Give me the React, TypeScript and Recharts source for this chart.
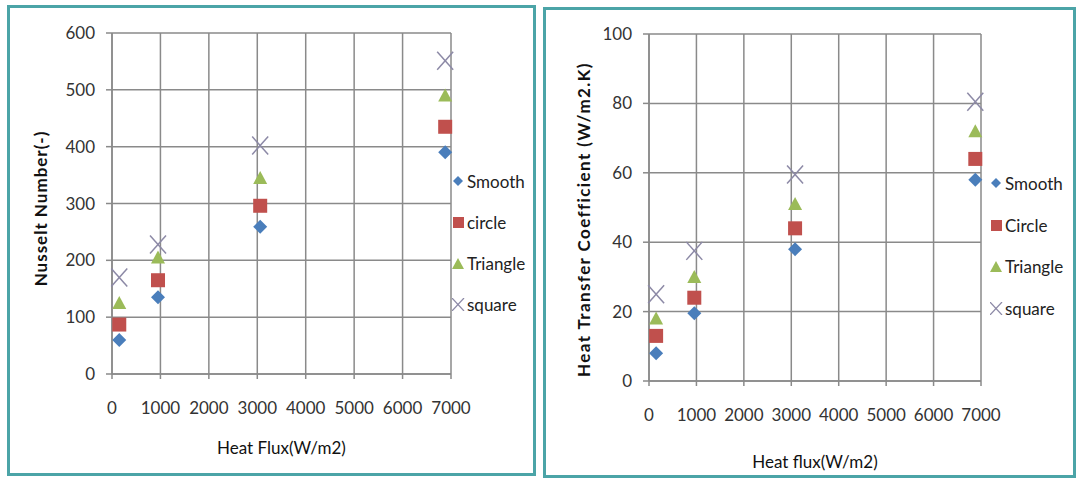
import React from 'react'
import { ScatterChart, Scatter, XAxis, YAxis, CartesianGrid, Label } from 'recharts'

// heat flux (W/m2) at the four test points
const fluxNu = [150, 950, 3060, 6880]
const fluxH = [150, 955, 3080, 6880]
const fluxTicks = [0, 1000, 2000, 3000, 4000, 5000, 6000, 7000]

// Nusselt number
const nuSmooth = [60, 135, 259, 390]
const nuCircle = [87, 165, 296, 435]
const nuTriangle = [125, 205, 345, 490]
const nuSquare = [170, 228, 402, 551]
const nuTicks = [0, 100, 200, 300, 400, 500, 600]

// heat transfer coefficient (W/m2.K)
const hSmooth = [8, 19.5, 38, 58]
const hCircle = [13, 24, 44, 64]
const hTriangle = [18, 30, 51, 72]
const hSquare = [25, 37.5, 59.5, 80.5]
const hTicks = [0, 20, 40, 60, 80, 100]

const leftNames = ['Smooth', 'circle', 'Triangle', 'square']
const rightNames = ['Smooth', 'Circle', 'Triangle', 'square']

const FONT = 'Lato, "Open Sans", sans-serif'
const GRID = '#8a8a8a'
const BORDER = '#4ba4a7'
const COLORS = ['#4a7ebb', '#c0504d', '#9bbb59', '#8c89a6']

const toPoints = (xs: number[], ys: number[]) => ys.map((y, i) => ({ x: xs[i], y }))

const Diamond = ({ cx, cy }: any) => (
  <polygon points={`${cx},${cy - 7} ${cx + 7},${cy} ${cx},${cy + 7} ${cx - 7},${cy}`} fill={COLORS[0]} />
)
const Square = ({ cx, cy }: any) => <rect x={cx - 7} y={cy - 7} width={14} height={14} fill={COLORS[1]} />
const Triangle = ({ cx, cy }: any) => (
  <polygon points={`${cx},${cy - 7} ${cx + 7},${cy + 6} ${cx - 7},${cy + 6}`} fill={COLORS[2]} />
)
const Cross = ({ cx, cy }: any) => (
  <g stroke={COLORS[3]} strokeWidth={1.5}>
    <line x1={cx - 8} y1={cy - 9} x2={cx + 8} y2={cy + 9} />
    <line x1={cx - 8} y1={cy + 9} x2={cx + 8} y2={cy - 9} />
  </g>
)
const shapes = [Diamond, Square, Triangle, Cross]

const legendIcon = (i: number) => {
  if (i === 0) return <polygon points="6,1 11,6 6,11 1,6" fill={COLORS[0]} />
  if (i === 1) return <rect x={1} y={1} width={11} height={11} fill={COLORS[1]} />
  if (i === 2) return <polygon points="6,1 12,12 0,12" fill={COLORS[2]} />
  return (
    <g stroke={COLORS[3]} strokeWidth={1.2}>
      <line x1={0} y1={0} x2={12} y2={13} />
      <line x1={0} y1={13} x2={12} y2={0} />
    </g>
  )
}

function Legend({ names, left, top, gap }: { names: string[]; left: number; top: number; gap: number }) {
  return (
    <div style={{ position: 'absolute', left, top, fontFamily: FONT, fontSize: 17, color: '#222' }}>
      {names.map((n, i) => (
        <div key={n} style={{ display: 'flex', alignItems: 'center', height: gap }}>
          <svg width={13} height={13} style={{ marginRight: 2 }}>
            {legendIcon(i)}
          </svg>
          <span>{n}</span>
        </div>
      ))}
    </div>
  )
}

const yTitle = (text: string, cx: number, dy: number, spacing: number) => (props: any) => {
  const vb = props.viewBox
  const cy = vb.y + vb.height / 2 + dy
  return (
    <text
      x={cx}
      y={cy}
      transform={`rotate(-90 ${cx} ${cy})`}
      textAnchor="middle"
      dominantBaseline="central"
      fontFamily={FONT}
      fontSize={17}
      fontWeight={700}
      letterSpacing={spacing}
      fill="#111"
    >
      {text}
    </text>
  )
}

const xTitle = (text: string, y: number) => (props: any) => {
  const vb = props.viewBox
  return (
    <text x={vb.x + vb.width / 2} y={y} textAnchor="middle" dominantBaseline="central" fontFamily={FONT} fontSize={17} fill="#111">
      {text}
    </text>
  )
}

const tickStyle = { fontFamily: FONT, fontSize: 17, fill: '#333' }

function Panel(props: {
  xs: number[]
  series: number[][]
  names: string[]
  yTicks: number[]
  yMax: number
  margin: any
  yLabel: string
  yLabelX: number
  yLabelDy: number
  yLabelSpacing: number
  xLabel: string
  xLabelY: number
}) {
  return (
    <ScatterChart width={540} height={479} margin={props.margin}>
      <CartesianGrid stroke={GRID} strokeWidth={1.5} horizontalValues={props.yTicks} verticalValues={fluxTicks} />
      <XAxis
        type="number"
        dataKey="x"
        domain={[0, 7000]}
        ticks={fluxTicks}
        height={30}
        stroke={GRID}
        strokeWidth={1.5}
        tickSize={5}
        tickMargin={23}
        tick={tickStyle}
      >
        <Label content={xTitle(props.xLabel, props.xLabelY)} />
      </XAxis>
      <YAxis
        type="number"
        dataKey="y"
        domain={[0, props.yMax]}
        ticks={props.yTicks}
        width={60}
        stroke={GRID}
        strokeWidth={1.5}
        tickSize={6}
        tickMargin={11}
        tick={tickStyle}
      >
        <Label content={yTitle(props.yLabel, props.yLabelX, props.yLabelDy, props.yLabelSpacing)} />
      </YAxis>
      {props.series.map((ys, i) => {
        const Shape = shapes[i]
        return (
          <Scatter
            key={props.names[i]}
            name={props.names[i]}
            data={toPoints(props.xs, ys)}
            shape={(p: any) => <Shape {...p} />}
            isAnimationActive={false}
          />
        )
      })}
    </ScatterChart>
  )
}

export default function App() {
  return (
    <div style={{ position: 'absolute', left: 0, top: 0, width: 1080, height: 479, background: '#fff', overflow: 'hidden' }}>
      <div style={{ position: 'absolute', left: 0, top: 0 }}>
        <Panel
          xs={fluxNu}
          series={[nuSmooth, nuCircle, nuTriangle, nuSquare]}
          names={leftNames}
          yTicks={nuTicks}
          yMax={600}
          margin={{ top: 33, right: 89, bottom: 75, left: 52 }}
          yLabel="Nusselt Number(-)"
          yLabelX={40}
          yLabelDy={5}
          yLabelSpacing={1}
          xLabel="Heat Flux(W/m2)"
          xLabelY={447}
        />
      </div>
      <div style={{ position: 'absolute', left: 540, top: 0 }}>
        <Panel
          xs={fluxH}
          series={[hSmooth, hCircle, hTriangle, hSquare]}
          names={rightNames}
          yTicks={hTicks}
          yMax={100}
          margin={{ top: 34, right: 99, bottom: 68, left: 49 }}
          yLabel="Heat Transfer Coefficient  (W/m2.K)"
          yLabelX={43}
          yLabelDy={12}
          yLabelSpacing={1.4}
          xLabel="Heat flux(W/m2)"
          xLabelY={461}
        />
      </div>
      <Legend names={leftNames} left={452} top={161} gap={41} />
      <Legend names={rightNames} left={990} top={163} gap={41.5} />
      <div style={{ position: 'absolute', left: 7, top: 5, width: 523, height: 465, border: `3px solid ${BORDER}` }} />
      <div style={{ position: 'absolute', left: 543, top: 7, width: 527, height: 465, border: `3px solid ${BORDER}` }} />
    </div>
  )
}
